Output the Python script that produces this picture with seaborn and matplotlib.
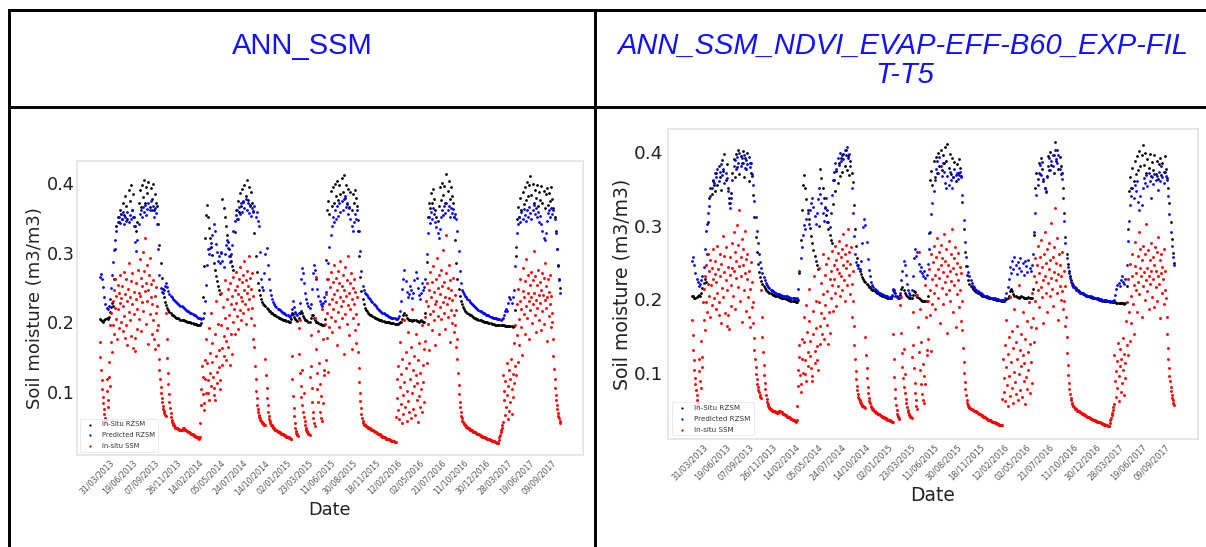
import numpy as np
import matplotlib
matplotlib.use("Agg")
import matplotlib.pyplot as plt
from matplotlib.lines import Line2D
import seaborn as sns

# table header texts
title_left = "ANN_SSM"
title_right = ["ANN_SSM_NDVI_EVAP-EFF-B60_EXP-FIL", "T-T5"]

# x axis: sample index, a date label every 80 samples from sample 60
tick_labels = ["31/03/2013", "19/06/2013", "07/09/2013", "26/11/2013", "14/02/2014",
               "05/05/2014", "24/07/2014", "14/10/2014", "02/01/2015", "23/03/2015",
               "11/06/2015", "30/08/2015", "18/11/2015", "12/02/2016", "02/05/2016",
               "21/07/2016", "11/10/2016", "30/12/2016", "28/03/2017", "19/06/2017",
               "09/09/2017"]
tick_first = 60
tick_every = 80

step_rzsm = 4   # samples between stored RZSM values
step_ssm = 2    # samples between stored SSM values

insitu_rzsm = [
    205, 204, 202, 201, 203, 205, 206, 205, 208, 215, 222, 228, 224, 262, 305, 338, 352, 344, 361, 356,
    348, 372, 355, 381, 367, 349, 390, 375, 398, 362, 384, 352, 338, 331, 345, 372, 391, 366, 398, 380,
    404, 371, 395, 386, 402, 366, 393, 378, 399, 361, 385, 372, 368, 342, 312, 285, 264, 248, 237, 230,
    225, 221, 218, 215, 213, 211, 210, 209, 208, 207, 206, 206, 205, 204, 204, 203, 203, 202, 202, 201,
    201, 200, 200, 199, 199, 198, 198, 198, 197, 197, 196, 196, 199, 236, 281, 322, 355, 369, 352, 336,
    322, 309, 297, 286, 276, 267, 259, 252, 246, 241, 300, 378, 365, 351, 338, 326, 315, 305, 296, 288,
    281, 276, 330, 362, 348, 375, 359, 386, 368, 392, 373, 398, 381, 404, 376, 395, 369, 388, 372, 360,
    328, 296, 272, 256, 246, 239, 234, 230, 227, 225, 223, 221, 219, 217, 216, 214, 213, 212, 211, 210,
    209, 208, 207, 206, 205, 205, 204, 203, 203, 202, 202, 201, 201, 205, 213, 212, 208, 205, 203, 202,
    206, 214, 217, 213, 209, 206, 204, 203, 202, 201, 201, 206, 211, 210, 206, 203, 201, 200, 199, 198,
    198, 197, 197, 197, 205, 290, 362, 375, 356, 389, 367, 394, 372, 399, 381, 403, 376, 397, 385, 408,
    388, 412, 379, 398, 370, 392, 366, 387, 361, 384, 372, 391, 379, 368, 332, 296, 265, 245, 233, 226,
    221, 218, 216, 214, 212, 211, 210, 209, 208, 207, 206, 205, 205, 204, 203, 203, 202, 202, 201, 201,
    200, 200, 200, 199, 199, 199, 199, 198, 198, 198, 198, 199, 200, 201, 205, 211, 214, 211, 207, 205,
    204, 203, 203, 202, 203, 204, 203, 202, 202, 201, 202, 203, 202, 201, 201, 214, 287, 351, 372, 364,
    386, 371, 392, 378, 361, 352, 346, 368, 395, 376, 401, 383, 396, 372, 414, 389, 403, 377, 394, 381,
    372, 351, 318, 285, 262, 248, 238, 231, 226, 222, 219, 217, 215, 213, 212, 211, 210, 209, 208, 207,
    206, 205, 205, 204, 203, 203, 202, 202, 201, 201, 200, 200, 199, 199, 199, 198, 198, 198, 197, 197,
    197, 197, 196, 196, 196, 196, 196, 195, 195, 195, 195, 195, 195, 195, 194, 195, 218, 296, 348, 366,
    352, 379, 361, 388, 370, 395, 376, 402, 381, 397, 410, 383, 399, 372, 391, 379, 398, 368, 387, 376,
    396, 371, 389, 364, 384, 393, 369, 386, 374, 395, 377, 365, 352, 331, 305, 282, 263, 250,
]

# Predicted RZSM, model ANN_SSM (left panel)
pred_rzsm_ann_ssm = [
    265, 270, 262, 251, 236, 226, 221, 219, 224, 234, 249, 268, 287, 304, 318, 332, 344, 351, 343, 356,
    348, 358, 341, 352, 346, 359, 344, 355, 349, 361, 352, 338, 316, 302, 318, 341, 356, 362, 351, 366,
    358, 369, 354, 363, 372, 361, 375, 362, 368, 352, 364, 357, 342, 305, 268, 249, 244, 242, 246, 252,
    256, 251, 245, 241, 238, 236, 234, 232, 231, 229, 228, 227, 225, 224, 223, 222, 221, 219, 218, 217,
    216, 215, 214, 213, 212, 211, 210, 209, 208, 207, 206, 206, 205, 207, 214, 231, 254, 283, 306, 298,
    307, 314, 326, 341, 332, 313, 301, 288, 296, 285, 301, 288, 279, 298, 311, 318, 307, 296, 287, 299,
    312, 331, 346, 354, 362, 349, 366, 356, 371, 359, 374, 364, 378, 362, 371, 357, 368, 353, 364, 358,
    367, 351, 359, 346, 338, 301, 262, 251, 246, 271, 298, 307, 283, 262, 247, 239, 234, 229, 226, 223,
    222, 220, 219, 218, 216, 215, 214, 213, 212, 211, 210, 209, 208, 211, 219, 231, 222, 215, 212, 210,
    214, 228, 262, 278, 271, 256, 243, 233, 228, 224, 221, 226, 248, 271, 282, 276, 262, 248, 238, 231,
    226, 224, 228, 236, 231, 244, 263, 286, 308, 326, 338, 351, 344, 362, 348, 367, 353, 371, 358, 374,
    362, 377, 381, 366, 372, 356, 364, 349, 338, 331, 344, 356, 348, 361, 347, 331, 302, 274, 252, 246,
    243, 241, 239, 237, 235, 233, 231, 229, 227, 225, 223, 221, 220, 218, 217, 215, 214, 213, 212, 211,
    210, 209, 208, 208, 207, 207, 206, 206, 205, 205, 206, 209, 216, 231, 248, 263, 276, 259, 244, 236,
    241, 253, 246, 235, 242, 261, 272, 264, 249, 239, 234, 243, 256, 247, 251, 263, 298, 329, 351, 343,
    358, 349, 364, 356, 344, 337, 328, 321, 334, 352, 361, 354, 368, 357, 372, 361, 368, 352, 364, 357,
    363, 351, 356, 349, 331, 302, 274, 256, 247, 244, 241, 238, 236, 234, 232, 230, 228, 226, 225, 223,
    222, 221, 219, 218, 217, 216, 215, 214, 213, 212, 211, 210, 210, 209, 208, 208, 207, 207, 206, 206,
    205, 205, 205, 204, 205, 206, 210, 216, 219, 217, 228, 237, 234, 228, 236, 247, 281, 309, 328, 341,
    352, 344, 358, 349, 363, 354, 346, 361, 352, 366, 357, 348, 362, 369, 356, 364, 351, 358, 345, 353,
    342, 331, 322, 318, 329, 346, 357, 362, 351, 364, 356, 361, 348, 329, 306, 281, 261, 243,
]

# Predicted RZSM, model ANN_SSM_NDVI_EVAP-EFF-B60_EXP-FILT-T5 (right panel)
pred_rzsm_ann_full = [
    252, 258, 247, 236, 228, 223, 218, 221, 226, 232, 244, 268, 293, 302, 318, 327, 341, 352, 363, 358,
    372, 366, 378, 361, 374, 384, 369, 377, 359, 372, 365, 348, 331, 324, 338, 362, 381, 390, 377, 394,
    386, 399, 381, 392, 385, 397, 379, 390, 384, 394, 380, 386, 371, 355, 334, 312, 293, 276, 262, 251,
    243, 236, 230, 226, 222, 219, 217, 215, 213, 212, 211, 210, 209, 208, 207, 207, 206, 206, 205, 205,
    204, 204, 204, 203, 203, 202, 202, 202, 201, 201, 200, 201, 214, 238, 256, 271, 288, 301, 296, 309,
    318, 303, 322, 331, 338, 326, 314, 302, 318, 336, 352, 344, 331, 318, 306, 324, 338, 321, 305, 299,
    318, 342, 362, 374, 386, 378, 392, 383, 399, 388, 396, 391, 404, 396, 408, 392, 398, 381, 352, 318,
    286, 262, 251, 246, 243, 241, 252, 276, 299, 309, 301, 278, 255, 240, 231, 224, 219, 216, 214, 212,
    211, 210, 209, 208, 207, 206, 206, 205, 204, 204, 203, 203, 202, 206, 214, 210, 205, 203, 202, 202,
    209, 226, 238, 252, 246, 233, 221, 212, 208, 206, 213, 232, 256, 268, 259, 264, 248, 239, 244, 236,
    231, 238, 229, 233, 248, 268, 292, 316, 331, 348, 362, 378, 389, 372, 394, 381, 368, 386, 374, 359,
    351, 368, 356, 374, 362, 351, 367, 378, 369, 372, 364, 369, 373, 366, 342, 308, 278, 258, 245, 237,
    231, 226, 222, 218, 216, 214, 212, 211, 210, 209, 208, 207, 206, 205, 205, 204, 203, 203, 202, 202,
    201, 201, 201, 200, 200, 200, 199, 199, 199, 199, 198, 202, 208, 216, 228, 244, 236, 252, 241, 258,
    246, 234, 251, 243, 256, 238, 249, 233, 252, 245, 237, 254, 242, 239, 246, 262, 291, 318, 342, 356,
    372, 383, 369, 387, 364, 351, 347, 366, 381, 392, 376, 389, 382, 396, 404, 391, 385, 396, 378, 371,
    364, 338, 306, 276, 256, 244, 236, 229, 224, 220, 217, 215, 213, 212, 211, 210, 209, 208, 207, 207,
    206, 206, 205, 205, 204, 204, 203, 203, 202, 202, 201, 201, 200, 200, 200, 199, 199, 199, 199, 198,
    198, 198, 198, 197, 197, 199, 206, 214, 219, 222, 218, 226, 231, 224, 221, 228, 246, 279, 306, 328,
    341, 352, 338, 356, 347, 361, 333, 322, 341, 329, 352, 365, 358, 369, 354, 372, 361, 338, 366, 357,
    371, 362, 368, 349, 373, 361, 381, 366, 358, 374, 368, 362, 341, 316, 291, 272, 258, 246,
]

insitu_ssm = [
    172, 151, 131, 117, 104, 93, 84, 76, 69, 63, 58, 55, 118, 102, 89, 79, 143, 121, 108, 196,
    172, 214, 158, 231, 196, 247, 183, 221, 262, 205, 238, 176, 254, 219, 192, 243, 228, 268, 201, 235,
    252, 187, 224, 273, 209, 241, 178, 196, 262, 231, 168, 248, 215, 286, 203, 237, 259, 181, 226, 271,
    163, 212, 244, 178, 159, 233, 257, 191, 219, 276, 243, 205, 291, 238, 264, 187, 229, 252, 301, 217,
    274, 245, 322, 198, 257, 231, 282, 169, 246, 268, 212, 293, 236, 255, 184, 227, 261, 203, 176, 238,
    162, 214, 251, 189, 223, 196, 168, 147, 131, 118, 107, 98, 91, 85, 80, 76, 73, 70, 67, 65,
    213, 176, 149, 128, 111, 97, 86, 77, 70, 64, 60, 57, 55, 53, 52, 51, 50, 49, 49, 48,
    48, 47, 47, 47, 46, 46, 46, 45, 45, 46, 47, 48, 48, 47, 46, 46, 45, 44, 44, 43,
    43, 42, 42, 41, 41, 40, 40, 39, 39, 38, 38, 37, 37, 37, 36, 36, 35, 35, 34, 34,
    33, 36, 55, 82, 104, 138, 121, 97, 84, 74, 146, 118, 99, 176, 142, 117, 98, 88, 192, 156,
    128, 109, 214, 171, 143, 122, 106, 96, 89, 184, 152, 231, 129, 113, 198, 161, 136, 117, 104, 243,
    196, 163, 139, 222, 181, 152, 261, 207, 174, 146, 233, 192, 248, 165, 211, 139, 256, 183, 227, 154,
    238, 201, 266, 219, 184, 247, 228, 272, 209, 253, 191, 241, 263, 218, 279, 236, 204, 258, 231, 268,
    213, 247, 289, 226, 261, 198, 242, 274, 219, 252, 296, 233, 264, 207, 248, 271, 221, 176, 238, 197,
    164, 138, 118, 102, 91, 82, 76, 71, 67, 64, 62, 60, 58, 57, 56, 55, 54, 53, 53, 52,
    148, 124, 106, 92, 81, 72, 66, 61, 58, 55, 53, 52, 51, 50, 49, 48, 47, 46, 46, 45,
    45, 44, 44, 43, 43, 42, 42, 41, 41, 40, 40, 39, 39, 38, 38, 38, 37, 37, 36, 36,
    36, 35, 35, 34, 34, 34, 33, 33, 152, 118, 94, 77, 65, 56, 49, 44, 41, 39, 38, 37,
    192, 154, 203, 127, 108, 93, 81, 132, 72, 98, 64, 58, 53, 49, 46, 44, 42, 41, 40, 39,
    38, 121, 182, 138, 106, 86, 72, 62, 55, 51, 206, 162, 265, 128, 104, 187, 85, 142, 71, 112,
    63, 95, 58, 219, 84, 176, 131, 124, 198, 146, 241, 213, 178, 262, 129, 227, 194, 251, 208, 272,
    233, 186, 258, 219, 283, 241, 202, 264, 229, 168, 247, 274, 215, 256, 193, 237, 289, 224, 252, 207,
    268, 231, 154, 246, 212, 279, 238, 198, 261, 225, 296, 243, 182, 256, 219, 271, 234, 162, 249, 207,
    263, 226, 189, 244, 212, 171, 236, 198, 158, 134, 115, 99, 87, 77, 69, 63, 59, 56, 54, 53,
    52, 52, 51, 51, 50, 50, 49, 49, 48, 48, 47, 47, 46, 46, 45, 45, 44, 44, 43, 43,
    42, 42, 41, 41, 40, 40, 39, 39, 38, 38, 37, 37, 36, 36, 35, 35, 35, 34, 34, 33,
    33, 33, 32, 32, 32, 31, 31, 31, 30, 30, 30, 29, 29, 29, 28, 28, 28, 64, 118, 92,
    74, 138, 61, 107, 172, 83, 126, 55, 148, 96, 68, 203, 114, 79, 157, 134, 58, 101, 186, 87,
    142, 71, 119, 164, 62, 98, 219, 131, 76, 109, 152, 67, 124, 183, 89, 113, 57, 146, 94, 171,
    78, 128, 104, 196, 72, 139, 115, 162, 86, 208, 174, 231, 142, 256, 198, 223, 161, 247, 212, 272,
    236, 189, 258, 217, 281, 203, 244, 226, 167, 262, 231, 292, 209, 249, 183, 268, 222, 241, 276, 205,
    253, 229, 304, 214, 258, 191, 237, 271, 325, 226, 249, 208, 283, 235, 172, 261, 218, 246, 199, 232,
    264, 211, 186, 239, 197, 164, 218, 176, 148, 127, 110, 97, 86, 78, 71, 66, 62, 59, 57, 55,
    54, 53, 52, 51, 50, 50, 49, 48, 48, 47, 47, 46, 46, 45, 45, 44, 44, 43, 43, 42,
    42, 41, 41, 40, 40, 40, 39, 39, 38, 38, 37, 37, 37, 36, 36, 35, 35, 35, 34, 34,
    34, 33, 33, 33, 32, 32, 32, 31, 31, 31, 30, 30, 30, 29, 29, 29, 28, 28, 28, 27,
    27, 27, 27, 31, 35, 38, 42, 45, 49, 53, 57, 124, 88, 102, 67, 116, 79, 141, 96, 61,
    109, 132, 73, 118, 86, 147, 104, 69, 126, 93, 113, 171, 138, 196, 124, 227, 182, 143, 248, 205,
    167, 231, 262, 194, 219, 153, 245, 278, 212, 236, 183, 259, 224, 291, 207, 243, 268, 231, 176, 254,
    218, 272, 237, 199, 261, 226, 302, 243, 211, 267, 232, 186, 254, 221, 276, 239, 203, 258, 228, 189,
    247, 271, 216, 239, 264, 198, 232, 285, 221, 253, 174, 236, 262, 209, 244, 227, 268, 194, 238, 213,
    201, 176, 152, 133, 118, 106, 96, 88, 81, 75, 70, 66, 62, 59, 56,
]

sns.set_theme(style="white")
plt.rcParams["font.family"] = ["DejaVu Sans"]

W, H = 1206, 547
fig = plt.figure(figsize=(W / 100, H / 100), dpi=100)
fig.patch.set_facecolor("white")


def fx(px):
    return px / W


def fy(py):
    return 1 - py / H


# table borders
for xs, ys in [((9, W), (10, 10)), ((9, W), (107, 107)),
               ((9, 9), (10, H)), ((595, 595), (10, H))]:
    fig.add_artist(Line2D([fx(xs[0]), fx(xs[1])], [fy(ys[0]), fy(ys[1])],
                          transform=fig.transFigure, color="black", lw=2.1,
                          solid_capstyle="projecting"))

head = dict(color="#1111ff", fontsize=21, family=["Liberation Sans", "DejaVu Sans"],
            ha="center", va="baseline")
fig.text(fx(302), fy(54), title_left, **head)
fig.text(fx(903), fy(54), title_right[0], style="italic", **head)
fig.text(fx(905), fy(83), title_right[1], style="italic", **head)


def panel(ax, pred, k):
    xr = np.arange(len(insitu_rzsm)) * step_rzsm
    xp = np.arange(len(pred)) * step_rzsm
    xs = np.arange(len(insitu_ssm)) * step_ssm
    sns.scatterplot(x=xr, y=np.array(insitu_rzsm) / 1000, color="black", s=4,
                    linewidth=0, ax=ax, label="In-Situ RZSM")
    sns.scatterplot(x=xp, y=np.array(pred) / 1000, color="blue", s=4,
                    linewidth=0, ax=ax, label="Predicted RZSM")
    sns.scatterplot(x=xs, y=np.array(insitu_ssm) / 1000, color="red", s=4.5,
                    linewidth=0, ax=ax, label="In-situ SSM")

    ax.set_xlim(-83, 1751)
    ax.set_ylim(0.0095, 0.432)
    ticks = [tick_first + tick_every * i for i in range(len(tick_labels))]
    ax.set_xticks(ticks)
    ax.set_xticklabels(tick_labels, rotation=45, ha="right")
    ax.set_yticks([0.1, 0.2, 0.3, 0.4])
    ax.set_yticklabels(["0.1", "0.2", "0.3", "0.4"])
    ax.tick_params(axis="x", length=0, pad=2.5, labelsize=5.6 * k, labelcolor="#555555")
    ax.tick_params(axis="y", length=0, pad=1.5 + 40 * (k - 1), labelsize=12.7 * k,
                   labelcolor="#222222")
    ax.set_ylabel("Soil moisture (m3/m3)", fontsize=13 * k, color="#222222", labelpad=2)
    ax.set_xlabel("Date", fontsize=12.8 * k, color="#222222", labelpad=3)
    for sp in ax.spines.values():
        sp.set_color("#e3e3e3")
        sp.set_linewidth(1.2)
    leg = ax.legend(loc="lower left", fontsize=4.9 * k, frameon=True, labelspacing=0.7,
                    markerscale=0.8)
    leg.get_frame().set_edgecolor("#e8e8e8")
    leg.get_frame().set_linewidth(0.8)
    for t in leg.get_texts():
        t.set_color("#333333")


axL = fig.add_axes([fx(77), fy(455), (583 - 77) / W, (455 - 161) / H])
axR = fig.add_axes([fx(668), fy(439), (1198 - 668) / W, (439 - 129) / H])
panel(axL, pred_rzsm_ann_ssm, 1.0)
panel(axR, pred_rzsm_ann_full, 1.045)

fig.savefig("out.png", dpi=100, facecolor="white")
